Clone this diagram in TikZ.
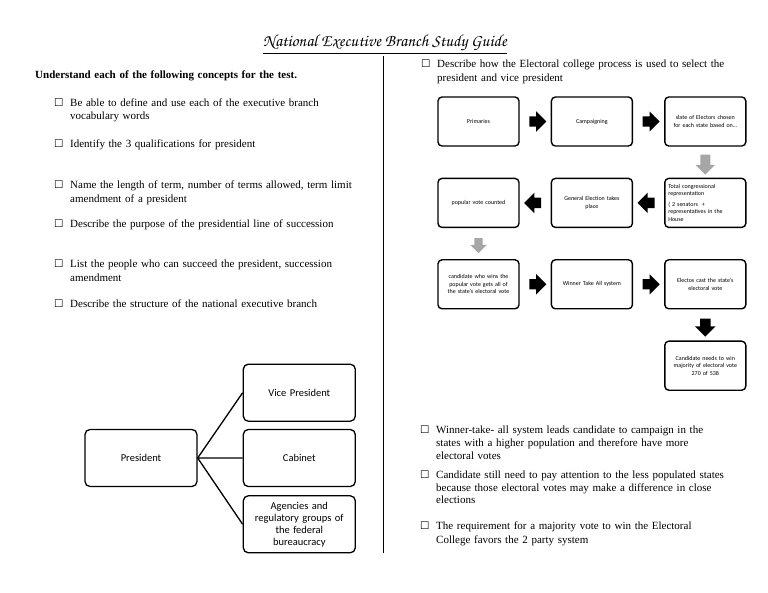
\documentclass[tikz,border=0pt]{standalone}
\usepackage{fontspec}
\setmainfont{Liberation Serif}
\newfontfamily\boxfont{Carlito}
\newfontfamily\symfont{DejaVu Sans}
\usetikzlibrary{positioning, shapes.arrows, calc}

\newcommand{\chk}{\llap{\makebox[16pt][l]{\symfont\fontsize{10.5}{10}\selectfont ☐}}}

\tikzset{
  flow/.style={draw, rounded corners=4pt, line width=1.4pt, minimum width=81pt, minimum height=49pt,
    text width=74pt, align=center, inner sep=2pt, font=\boxfont\fontsize{6}{7.5}\selectfont},
  org/.style={draw, rounded corners=5pt, line width=1.3pt, minimum width=112pt, minimum height=57pt,
    text width=104pt, align=center, inner sep=2pt, font=\boxfont\fontsize{10.5}{12}\selectfont},
  todo/.style={anchor=north west, inner sep=0pt, text width=320pt, align=left,
    font=\fontsize{11}{13.5}\selectfont},
  blk/.style={single arrow, fill=black, inner xsep=0pt, inner ysep=5pt, minimum height=17pt,
    single arrow head extend=5pt},
  gry/.style={blk, fill=black!35},
}

\begin{document}
\begin{tikzpicture}[x=1pt, y=-1pt]
    \useasboundingbox (0,0) rectangle (768,593);
    % title and the two columns
    \node (title) at (385,44) {\fontencoding{T1}\fontfamily{pzc}\fontsize{17}{17}\selectfont\underline{National Executive Branch Study Guide}};
    \draw[line width=1pt] (383,56) -- (383,553);

    \node[todo, font=\bfseries\fontsize{11}{13.5}\selectfont] (head) at (35,71) {Understand each of the following concepts for the test.};
    \node[todo] (l1) at (70,98.5) {\chk Be able to define and use each of the executive branch\\vocabulary words};
    \node[todo] (l2) at (70,140) {\chk Identify the 3 qualifications for president};
    \node[todo] (l3) at (70,181) {\chk Name the length of term, number of terms allowed, term limit\\amendment of a president};
    \node[todo] (l4) at (70,220) {\chk Describe the purpose of the presidential line of succession};
    \node[todo] (l5) at (70,260) {\chk List the people who can succeed the president, succession\\amendment};
    \node[todo] (l6) at (70,300) {\chk Describe the structure of the national executive branch};

    \node[todo, font=\fontsize{11}{14}\selectfont] (r1) at (437,60) {\chk Describe how the Electoral college process is used to select the\\president and vice president};
    \node[todo, font=\fontsize{11}{12.8}\selectfont] (r2) at (436,426) {\chk Winner-take- all system leads candidate to campaign in the\\states with a higher population and therefore have more\\electoral votes};
    \node[todo, font=\fontsize{11}{12.8}\selectfont] (r3) at (436,470.5) {\chk Candidate still need to pay attention to the less populated states\\because those electoral votes may make a difference in close\\elections};
    \node[todo, font=\fontsize{11}{13.5}\selectfont] (r4) at (436,522) {\chk The requirement for a majority vote to win the Electoral\\College favors the 2 party system};

    % electoral college flow
    \node[flow] (prim) at (478.5,121.5) {Primaries};
    \node[flow, right=31pt of prim] (camp) {Campaigning};
    \node[flow, right=31pt of camp] (slate) {slate of Electors chosen\\for each state based on…};
    \node[flow, below=31pt of slate, align=left] (total) {Total congressional\\representation\\[3pt]( 2 senators~ +\\representatives in the\\House};
    \node[flow, below=31pt of camp] (gen) {General Election takes\\place};
    \node[flow, below=31pt of prim] (pop) {popular vote counted};
    \node[flow, below=31pt of pop] (wins) {candidate who wins the\\popular vote gets all of\\the state’s electoral vote};
    \node[flow, below=31pt of gen] (wta) {Winner Take All system};
    \node[flow, below=31pt of total] (cast) {Electos cast the state’s\\electoral vote};
    \node[flow, below=31pt of cast] (need) {Candidate needs to win\\majority of electoral vote\\270 of 538};

    \node[blk] (a1) at ($(prim.east)!.5!(camp.west)$) {};
    \node[blk] (a2) at ($(camp.east)!.5!(slate.west)$) {};
    \node[gry, rotate=-90, inner ysep=4.75pt, single arrow head extend=4.75pt, minimum height=20pt] (a3) at ($(slate.south)!.5!(total.north)$) {};
    \node[blk, rotate=180] (a4) at ($(total.west)!.5!(gen.east)$) {};
    \node[blk, rotate=180] (a5) at ($(gen.west)!.5!(pop.east)$) {};
    \node[gry, rotate=-90, inner ysep=4pt, single arrow head extend=4pt, minimum height=15pt] (a6) at ($(pop.south)!.5!(wins.north)$) {};
    \node[blk] (a7) at ($(wins.east)!.5!(wta.west)$) {};
    \node[blk] (a8) at ($(wta.east)!.5!(cast.west)$) {};
    \node[blk, rotate=-90, minimum height=18pt] (a9) at ($(cast.south)!.5!(need.north)$) {};

    % structure of the executive branch
    \node[org] (pres) at (141,458) {President};
    \node[org, right=45pt of pres] (cab) {Cabinet};
    \node[org, above=7pt of cab] (vp) {Vice President};
    \node[org, below=8pt of cab] (agen) {Agencies and\\regulatory groups of\\the federal\\bureaucracy};

    \draw[line width=1.3pt] (pres.east) -- (vp.west)
                            (pres.east) -- (cab.west)
                            (pres.east) -- (agen.west);
\end{tikzpicture}
\end{document}
